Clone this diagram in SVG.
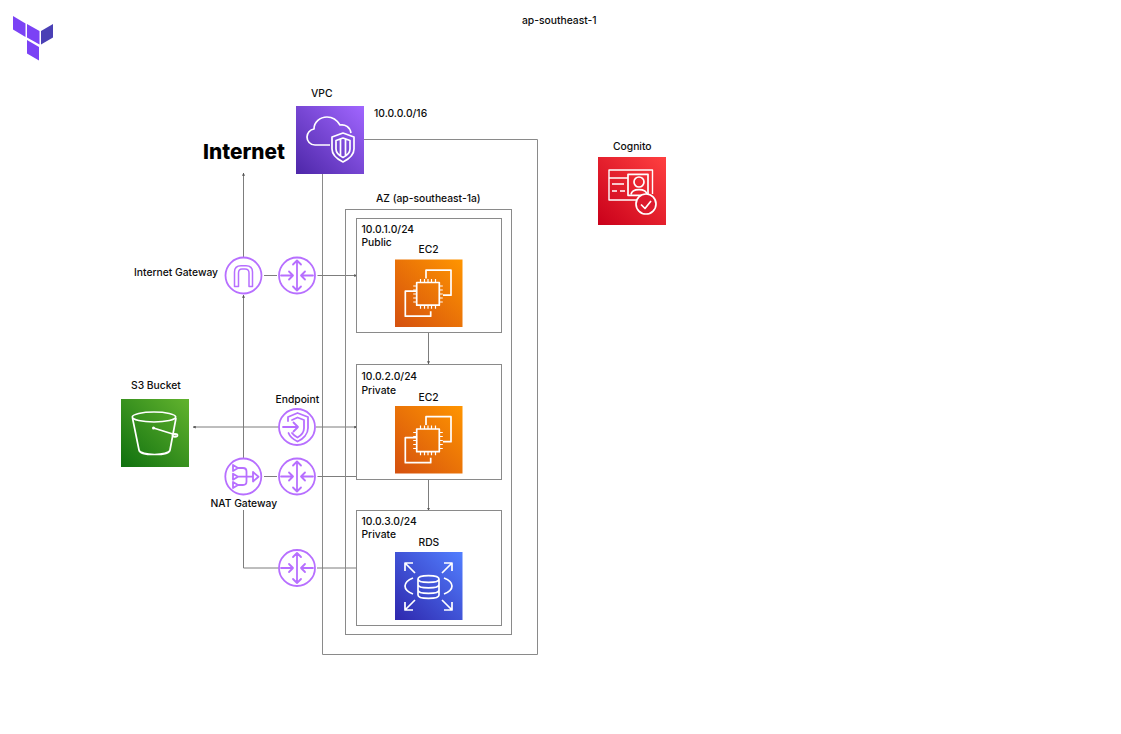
<svg xmlns="http://www.w3.org/2000/svg" width="1121" height="734" viewBox="0 0 1121 734">
<style>
text{font-family:Inter,"Liberation Sans",sans-serif;font-size:10.3px;font-weight:500;fill:#0d0d0d}
.box{fill:none;stroke:#8a8a8a;stroke-width:1}
.con{fill:none;stroke:#7d7d7d;stroke-width:1;marker-end:url(#arr)}
.con0{fill:none;stroke:#7d7d7d;stroke-width:1}
.ico{fill:none;stroke:#fff;stroke-width:1.7;stroke-linejoin:round}
.pur{fill:none;stroke:#b76fff;stroke-width:1.8;stroke-linejoin:round;stroke-linecap:round}
</style>
<defs>
<marker id="arr" viewBox="0 0 6 6" refX="5.5" refY="3" markerWidth="3" markerHeight="3" orient="auto" markerUnits="userSpaceOnUse"><path d="M0 0L6 3L0 6Z" fill="#555"/></marker>
<linearGradient id="gV" x1="0" y1="1" x2="1" y2="0"><stop offset="0" stop-color="#4d27a8"/><stop offset="1" stop-color="#a166ff"/></linearGradient>
<linearGradient id="gO" x1="0" y1="1" x2="1" y2="0"><stop offset="0" stop-color="#d4500f"/><stop offset="1" stop-color="#ff9500"/></linearGradient>
<linearGradient id="gG" x1="0" y1="1" x2="1" y2="0"><stop offset="0" stop-color="#0f700f"/><stop offset="1" stop-color="#62b32e"/></linearGradient>
<linearGradient id="gB" x1="0" y1="1" x2="1" y2="0"><stop offset="0" stop-color="#2e27ad"/><stop offset="1" stop-color="#527fff"/></linearGradient>
<linearGradient id="gR" x1="0" y1="1" x2="1" y2="0"><stop offset="0" stop-color="#c9001a"/><stop offset="1" stop-color="#ff4040"/></linearGradient>
<g id="router"><circle r="18" class="pur"/>
<path class="pur" d="M-16 0H-4M-8 -4L-4 0L-8 4M16 0H4M8 -4L4 0L8 4M0 -15V15M-4 -11L0 -15L4 -11M-4 11L0 15L4 11"/></g>
<g id="ec2chip">
<path class="ico" d="M31 19V10.700H56V35.700H48M21 31.700H10.300V56.700H35.700V51.700"/>
<rect x="21.700" y="23" width="22.600" height="22.700" class="ico"/>
<path class="ico" d="M25.500 23V19.500M29.500 23V19.500M33 23V19.500M36.500 23V19.500M40.500 23V19.500M25.500 45.700V49.200M29.500 45.700V49.200M33 45.700V49.200M36.500 45.700V49.200M40.500 45.700V49.200M21.700 26.500H18.200M21.700 30.500H18.200M21.700 34.500H18.200M21.700 38.500H18.200M21.700 42.500H18.200M44.300 26.500H47.800M44.300 30.500H47.800M44.300 34.500H47.800M44.300 38.500H47.800M44.300 42.500H47.800" style="stroke-width:1.200"/>
</g>
</defs>
<rect width="1121" height="734" fill="#fff"/>

<g id="connectors">
<path class="box" d="M364 139.500H537.500V654.500H322.500V174"/>
<path class="con" d="M243.500 257V173"/>
<path class="con" d="M243.500 458V295"/>
<path class="con0" d="M264 275.500H277"/>
<path class="con" d="M317.500 275.500H357"/>
<path class="con" d="M279 427H193"/>
<path class="con" d="M316 427H357"/>
<path class="con0" d="M264 476.500H277"/>
<path class="con0" d="M317.500 476.500H357"/>
<path class="con0" d="M243.500 510V568H279"/>
<path class="con0" d="M317 568H357"/>
<path class="con" d="M428.500 332V364"/>
<path class="con" d="M428.500 479V510.500"/>
</g>

<g id="region"><text x="522" y="24">ap-southeast-1</text></g>
<g id="terraform-logo">
<path d="M13 16L25.500 23.500V37L13 29.500Z" fill="#7b42f5"/>
<path d="M27 24L39.500 31V44.500L27 37.500Z" fill="#7b42f5"/>
<path d="M41 31L53 24V37.500L41 44.500Z" fill="#4a40b5"/>
<path d="M27 40L39 47V60.500L27 53.500Z" fill="#7b42f5"/>
</g>

<g id="vpc">
<text x="311" y="96.500">VPC</text>
<text x="374" y="117">10.0.0.0/16</text>
<rect x="296" y="106" width="68" height="68" fill="url(#gV)"/>
<path class="ico" d="M330 145H315C310 145 307 141 307 137C307 133 310 129.500 314 129C314 122 320 117 327 117C333 117 337 120 340 125C345 124 350 127 351 133"/>
<path class="ico" d="M343 133L354 137V149C354 155 349 159 343 162C337 159 332 155 332 149V137Z"/>
<path class="ico" d="M343 138L350 140.500V149C350 152.500 347 155.500 343 157.500C339 155.500 336 152.500 336 149V140.500ZM340.500 139.500V156.500M345.500 139.500V156.500"/>
</g>
<g id="internet"><text x="203" y="158.500" style="font-size:20.800px;font-weight:800;fill:#000">Internet</text></g>

<g id="cognito">
<text x="613" y="150">Cognito</text>
<rect x="598" y="157" width="68" height="68" fill="url(#gR)"/>
<path class="ico" d="M628 170H609V200H637M652.500 194V170H628M609 178H628M612 184H624M612 191H617M620 191H625" style="stroke-width:1.400"/>
<rect x="628" y="174.300" width="20" height="21" class="ico"/>
<circle cx="639" cy="182" r="5" class="ico"/>
<path class="ico" d="M631 194.500C632 188 646 188 647 194.500"/>
<circle cx="646" cy="204" r="10" class="ico" style="fill:#dc1a2e"/>
<path class="ico" d="M641 204.500L645 208.500L651 201"/>
</g>

<g id="az"><rect x="345.500" y="209.500" width="166" height="425" class="box"/><text x="376" y="201.500">AZ (ap-southeast-1a)</text></g>

<g id="subnet-public">
<rect x="356.500" y="218.500" width="145" height="114" class="box"/>
<text x="361.500" y="233">10.0.1.0/24</text><text x="361.500" y="246">Public</text>
</g>
<g id="ec2-public">
<text x="418.500" y="252.500">EC2</text>
<rect x="395" y="259.500" width="67.500" height="67.500" fill="url(#gO)"/>
<use href="#ec2chip" x="395" y="259.500"/>
</g>

<g id="subnet-private-1">
<rect x="356.500" y="364.500" width="145" height="115" class="box"/>
<text x="361.500" y="380">10.0.2.0/24</text><text x="361.500" y="394">Private</text>
</g>
<g id="ec2-private">
<text x="418.500" y="401">EC2</text>
<rect x="395" y="406" width="67.500" height="67.500" fill="url(#gO)"/>
<use href="#ec2chip" x="395" y="406"/>
</g>

<g id="subnet-private-2">
<rect x="356.500" y="510.500" width="145" height="115" class="box"/>
<text x="361.500" y="525">10.0.3.0/24</text><text x="361.500" y="538">Private</text>
</g>
<g id="rds">
<text x="418.500" y="546">RDS</text>
<rect x="395" y="552" width="67.500" height="68" fill="url(#gB)"/>
<path class="ico" d="M405 563L415 573M405 571V563H413M452 563L442 573M452 571V563H444M405 610L415 600M405 602V610H413M452 610L442 600M452 602V610H444"/>
<path class="ico" d="M413 578C408 580 405 583 405 586C405 589 408 592 413 594M444 578C449 580 452 583 452 586C452 589 449 592 444 594"/>
<path class="ico" d="M418 579C418 574.500 439 574.500 439 579V595C439 599.500 418 599.500 418 595ZM418 579C418 583.500 439 583.500 439 579M418 584.500C418 589 439 589 439 584.500M418 590C418 594.500 439 594.500 439 590"/>
</g>

<g id="internet-gateway">
<text x="134" y="275.500">Internet Gateway</text>
<circle cx="243.500" cy="275.500" r="18" class="pur"/>
<path class="pur" style="stroke-width:1.500" d="M234.500 286.500V272Q234.500 265.700 241 265.700H246Q252.500 265.700 252.500 272V286.500H249V273Q249 269 245 269H242Q238.500 269 238.500 273V286.500Z"/>
</g>
<g id="route-public"><use href="#router" x="297" y="275.500"/></g>

<g id="s3">
<text x="131" y="388.500">S3 Bucket</text>
<rect x="121" y="399" width="68" height="68" fill="url(#gG)"/>
<ellipse cx="154" cy="417" rx="21.700" ry="5" class="ico"/>
<path class="ico" d="M132.500 418L139 450C140 456 169 456 170 450L176 418M153.500 428L176 435"/>
<ellipse cx="175" cy="435.300" rx="2.500" ry="1.500" class="ico"/>
<circle cx="153.500" cy="428" r="1.500" fill="#fff"/>
</g>

<g id="endpoint">
<text x="275.500" y="403">Endpoint</text>
<circle cx="297" cy="427" r="18" class="pur"/>
<path class="pur" d="M283 427H298M293.500 422.500L298 427L293.500 431.500"/>
<path class="pur" d="M288 421V417L297.500 413L308 417V428C308 434 303 439 297.500 441.500C293.500 439.500 290 437 288.500 433"/>
<path class="pur" d="M292 420L297.500 417.500L304 420V428C304 432 301 435.500 297.500 437.500C295 436 293 434.500 292 433"/>
</g>

<g id="nat-gateway">
<text x="210.500" y="507">NAT Gateway</text>
<circle cx="243.300" cy="476.500" r="18" class="pur"/>
<path class="pur" d="M233 465L238 468L233 471ZM233 473.700L238 476.700L233 479.700ZM233 482L238 485L233 488ZM238 468H243Q246.500 468 246.500 471.500V481.500Q246.500 485 243 485H238M238 476.700H253M253 472L258.500 476.700L253 481.500Z"/>
</g>
<g id="route-private-1"><use href="#router" x="297" y="476.500"/></g>
<g id="route-private-2"><use href="#router" x="297" y="568"/></g>
</svg>
